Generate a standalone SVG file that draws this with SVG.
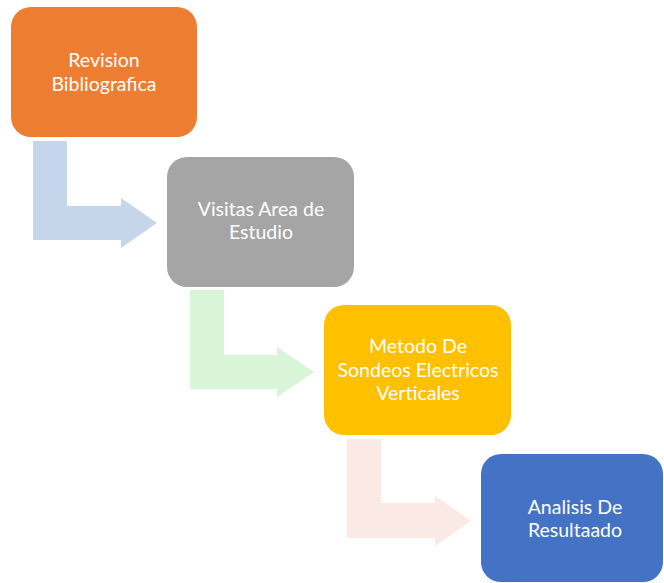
<svg xmlns="http://www.w3.org/2000/svg" width="664" height="583" viewBox="0 0 664 583">
<style>
.box{stroke:none}
.lbl{font-family:"Lato","Liberation Sans",sans-serif;font-size:19.5px;fill:#ffffff;text-anchor:middle}
</style>
<rect width="664" height="583" fill="#ffffff"/>
<g id="connectors">
<path d="M33,141 H67 V206 H121 V198 L157,223 L121,248 V240 H33 Z" fill="#C5D5EA"/>
<path d="M190,290 H224 V355 H277 V347 L314,372 L277,397 V389 H190 Z" fill="#D9F5D8"/>
<path d="M347,439 H381 V503 H435 V496 L471,521 L435,546 V538 H347 Z" fill="#FBE9E5"/>
</g>
<g id="n1">
<rect class="box" x="11" y="7" width="186" height="130" rx="20" fill="#ED7D31"/>
<text class="lbl" x="104" y="67">Revision</text>
<text class="lbl" x="104" y="91">Bibliografica</text>
</g>
<g id="n2">
<rect class="box" x="167" y="157" width="187" height="130" rx="20" fill="#A5A5A5"/>
<text class="lbl" x="261" y="216">Visitas Area de</text>
<text class="lbl" x="261" y="239">Estudio</text>
</g>
<g id="n3">
<rect class="box" x="324" y="305" width="187" height="130" rx="20" fill="#FFC000"/>
<text class="lbl" x="418" y="353">Metodo De</text>
<text class="lbl" x="418" y="377">Sondeos Electricos</text>
<text class="lbl" x="418" y="400">Verticales</text>
</g>
<g id="n4">
<rect class="box" x="481" y="454" width="182" height="128" rx="20" fill="#4472C4"/>
<text class="lbl" x="575" y="514">Analisis De</text>
<text class="lbl" x="575" y="537">Resultaado</text>
</g>
</svg>
